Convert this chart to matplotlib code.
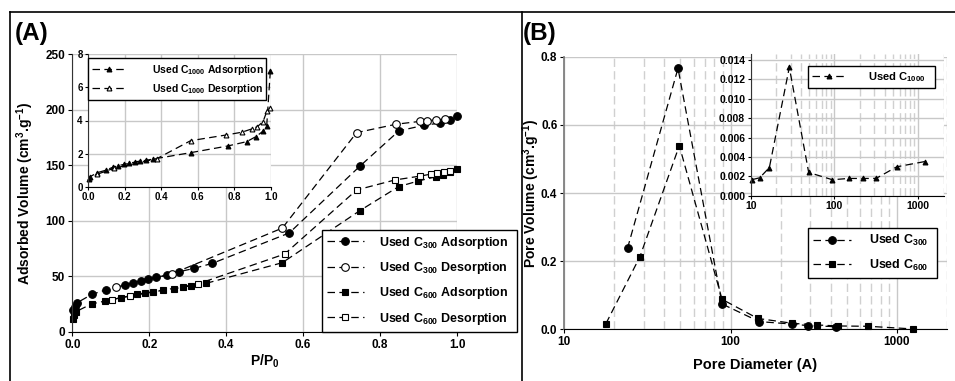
import numpy as np
import matplotlib.pyplot as plt
from matplotlib.lines import Line2D

plt.rcParams['font.family'] = ['Liberation Sans', 'DejaVu Sans']
plt.rcParams['font.weight'] = 'bold'
plt.rcParams['axes.labelweight'] = 'bold'
plt.rcParams['mathtext.fontset'] = 'custom'
plt.rcParams['mathtext.bf'] = 'Liberation Sans:bold'
plt.rcParams['mathtext.rm'] = 'Liberation Sans:bold'
plt.rcParams['mathtext.default'] = 'bf'

# (A) isotherms, P/P0 vs adsorbed volume (cm3/g)
c300_ads_x = [0.003, 0.007, 0.012, 0.051, 0.087, 0.136, 0.158, 0.179, 0.197, 0.217,
              0.247, 0.277, 0.316, 0.364, 0.564, 0.747, 0.849, 0.914, 0.955, 0.981, 1.0]
c300_ads_y = [19.5, 22.5, 26, 33.7, 37.6, 42, 44, 46, 47.5, 49,
              51, 54, 57, 61.6, 89, 149, 181, 186, 188, 191, 194]
c300_des_x = [0.113, 0.258, 0.546, 0.739, 0.842, 0.905, 0.922, 0.946, 0.970]
c300_des_y = [40, 52, 93.4, 179.4, 187, 189.6, 190, 191, 191.7]
c600_ads_x = [0.001, 0.005, 0.009, 0.05, 0.085, 0.126, 0.167, 0.189, 0.21, 0.236,
              0.265, 0.287, 0.309, 0.348, 0.546, 0.747, 0.848, 0.899, 0.946, 0.964, 0.981, 1.0]
c600_ads_y = [11, 15, 18, 25, 27.6, 30.6, 33.7, 35, 36, 37.6,
              38.8, 40, 41.5, 43.6, 62.2, 109, 130.7, 135.8, 139.7, 141, 143.6, 147]
c600_des_x = [0.102, 0.15, 0.326, 0.552, 0.739, 0.838, 0.905, 0.932, 0.949, 0.966, 0.983]
c600_des_y = [29, 32, 43, 70, 127.7, 136.7, 140.3, 142, 142.7, 143.6, 145]

# (A) inset, C1000
c1000_ads_x = [0.004, 0.009, 0.05, 0.097, 0.133, 0.165, 0.196, 0.225, 0.256, 0.283,
               0.314, 0.356, 0.563, 0.764, 0.868, 0.918, 0.96, 0.978, 0.998]
c1000_ads_y = [0.44, 0.6, 0.85, 1.0, 1.17, 1.27, 1.35, 1.41, 1.49, 1.55,
               1.59, 1.67, 2.06, 2.46, 2.72, 3.02, 3.37, 3.67, 6.99]
c1000_des_x = [0.049, 0.139, 0.375, 0.561, 0.753, 0.841, 0.896, 0.927, 0.958, 0.98, 0.995]
c1000_des_y = [0.75, 1.11, 1.69, 2.78, 3.12, 3.29, 3.49, 3.63, 3.93, 4.59, 4.75]

# (B) pore size distribution
c300_d = [24.0, 48.3, 88.9, 149, 233, 291, 429]
c300_v = [0.2377, 0.766, 0.0743, 0.0225, 0.0156, 0.0108, 0.0078]
c600_d = [17.8, 28.5, 49.2, 88.9, 145.6, 235.5, 330, 445, 675, 1259]
c600_v = [0.0166, 0.213, 0.539, 0.088, 0.032, 0.0176, 0.0127, 0.0098, 0.0088, 0.001]
c1000_d = [10.3, 12.8, 16.7, 28.9, 49.2, 94.2, 147.6, 221, 313, 552, 1202]
c1000_v = [0.00165, 0.00185, 0.0029, 0.01325, 0.0024, 0.00165, 0.00178, 0.00178,
           0.00178, 0.00298, 0.00353]

W, H = 955, 381
fig = plt.figure(figsize=(9.55, 3.81), dpi=100)


def box(x0, y0, x1, y1):
    return [x0 / W, 1 - y1 / H, (x1 - x0) / W, (y1 - y0) / H]


GRID = '#c8c8c8'
DASH = (0, (6, 3.5))
lk = dict(color='black', lw=0.9, linestyle=DASH, markeredgecolor='black',
          markeredgewidth=0.8, clip_on=False)


def style_axes(ax, fs):
    for s in ['top', 'right']:
        ax.spines[s].set_visible(False)
    ax.spines['left'].set_color('#333333')
    ax.spines['bottom'].set_color('black')
    ax.tick_params(labelsize=fs, length=3, width=0.8, pad=2)
    ax.set_axisbelow(True)


def legend(ax, x0, y0, x1, y1, fs, **kw):
    opts = dict(handlelength=3)
    opts.update(kw)
    leg = ax.legend(loc='lower left', bbox_to_anchor=(x0 / W, 1 - y1 / H, (x1 - x0) / W, (y1 - y0) / H),
                    bbox_transform=fig.transFigure, mode='expand', borderaxespad=0,
                    fancybox=False, framealpha=1, edgecolor='black', fontsize=fs, **opts)
    leg.get_frame().set_linewidth(1.0)
    return leg


# ---------------- panel A ----------------
axA = fig.add_axes(box(72.3, 54.3, 457, 331.7))
axA.plot(c300_ads_x, c300_ads_y, marker='o', ms=5.5, mfc='black', label=r'Used C$_{300}$ Adsorption', **lk)
axA.plot(c300_des_x, c300_des_y, marker='o', ms=5.5, mfc='white', label=r'Used C$_{300}$ Desorption', **lk)
axA.plot(c600_ads_x, c600_ads_y, marker='s', ms=5, mfc='black', label=r'Used C$_{600}$ Adsorption', **lk)
axA.plot(c600_des_x, c600_des_y, marker='s', ms=5, mfc='white', label=r'Used C$_{600}$ Desorption', **lk)
axA.set_xlim(0, 1.0)
axA.set_ylim(0, 250)
axA.set_xticks(np.arange(0, 1.01, 0.2))
axA.set_xticklabels(['0.0', '0.2', '0.4', '0.6', '0.8', '1.0'])
axA.set_yticks(np.arange(0, 251, 50))
axA.grid(True, color=GRID, lw=1.0)
style_axes(axA, 8.5)
axA.set_xlabel(r'P/P$_{0}$', fontsize=10)
axA.set_ylabel(r'Adsorbed Volume (cm$^{3}$.g$^{-1}$)', fontsize=10)
axA.xaxis.set_label_coords(0.5, -(361 - 331.7) / 277.4, transform=axA.transAxes)
axA.xaxis.label.set_va('center')
axA.yaxis.set_label_coords((25 - 72.3) / 384.7, 0.5)
axA.yaxis.label.set_va('center')
legend(axA, 321.7, 237.3, 517, 331.7, 9, labelspacing=0.75, handletextpad=1.2)

insA = fig.add_axes(box(88.3, 54.3, 270.7, 186.7))
insA.set_facecolor('white')
insA.plot(c1000_ads_x, c1000_ads_y, marker='^', ms=3.5, mfc='black', label=r'Used C$_{1000}$ Adsorption', **lk)
insA.plot(c1000_des_x, c1000_des_y, marker='^', ms=3.5, mfc='white', label=r'Used C$_{1000}$ Desorption', **lk)
insA.set_xlim(0, 1.0)
insA.set_ylim(0, 8)
insA.set_xticks(np.arange(0, 1.01, 0.2))
insA.set_xticklabels(['0.0', '0.2', '0.4', '0.6', '0.8', '1.0'])
insA.set_yticks([0, 2, 4, 6, 8])
insA.grid(True, color=GRID, lw=1.0)
style_axes(insA, 7)
insA.tick_params(length=2)
legend(insA, 88.3, 54.3, 266, 100, 7.5, labelspacing=0.5, handletextpad=2.5, handlelength=3.2)

# ---------------- panel B ----------------
axB = fig.add_axes(box(564.3, 56.7, 946.8, 329.3))
axB.plot(c300_d, c300_v, marker='o', ms=5.5, mfc='black', label=r'Used C$_{300}$', **lk)
axB.plot(c600_d, c600_v, marker='s', ms=5, mfc='black', label=r'Used C$_{600}$', **lk)
axB.set_xscale('log')
axB.set_xlim(10, 2000)
axB.set_ylim(0, 0.8)
axB.set_xticks([10, 100, 1000])
axB.set_xticklabels(['10', '100', '1000'])
axB.set_yticks(np.arange(0, 0.81, 0.2))
axB.set_yticklabels(['0.0', '0.2', '0.4', '0.6', '0.8'])
axB.grid(True, which='major', color=GRID, lw=1.0)
axB.grid(True, which='minor', axis='x', color='#d0d0d0', lw=1.0, linestyle=(0, (6, 3)))
style_axes(axB, 8.5)
axB.spines['left'].set_color('#808080')
axB.spines['left'].set_linewidth(1.3)
axB.tick_params(which='minor', length=0)
axB.set_xlabel('Pore Diameter (A)', fontsize=10.5)
axB.set_ylabel(r'Pore Volume (cm$^{3}$.g$^{-1}$)', fontsize=10)
axB.xaxis.set_label_coords(0.5, -(365 - 329.3) / 272.6)
axB.xaxis.label.set_va('center')
axB.yaxis.set_label_coords((531 - 564.3) / 382.5, 0.5)
axB.yaxis.label.set_va('center')
legend(axB, 808, 222, 937, 277.7, 9, labelspacing=0.75, handletextpad=1.5)

insB = fig.add_axes(box(750.7, 54.3, 943.5, 195.7))
insB.set_facecolor('white')
insB.plot(c1000_d, c1000_v, marker='^', ms=3.5, mfc='black', label=r'Used C$_{1000}$', **lk)
insB.set_xscale('log')
insB.set_xlim(10, 2000)
insB.set_ylim(0, 0.0146)
insB.set_xticks([10, 100, 1000])
insB.set_xticklabels(['10', '100', '1000'])
insB.set_yticks(np.arange(0, 0.0141, 0.002))
insB.set_yticklabels(['%.3f' % v for v in np.arange(0, 0.0141, 0.002)])
insB.grid(True, which='major', color=GRID, lw=1.0)
insB.grid(True, which='minor', axis='x', color='#d0d0d0', lw=1.0, linestyle=(0, (6, 3)))
style_axes(insB, 7.5)
insB.tick_params(length=2)
insB.tick_params(which='minor', length=0)
legend(insB, 808, 55.7, 935, 88.3, 8, handletextpad=2.0)

# panel letters and frame
fig.text(15 / W, 1 - 40 / H, '(A)', fontsize=17.5, fontweight='bold')
fig.text(523 / W, 1 - 40 / H, '(B)', fontsize=17.5, fontweight='bold')
for xs, ys in [([10, 955], [12, 12]), ([10, 10], [12, 381]), ([521.7, 521.7], [12, 381])]:
    fig.add_artist(Line2D([x / W for x in xs], [1 - y / H for y in ys], color='black', lw=1.2))

fig.savefig('out.png', dpi=100)
